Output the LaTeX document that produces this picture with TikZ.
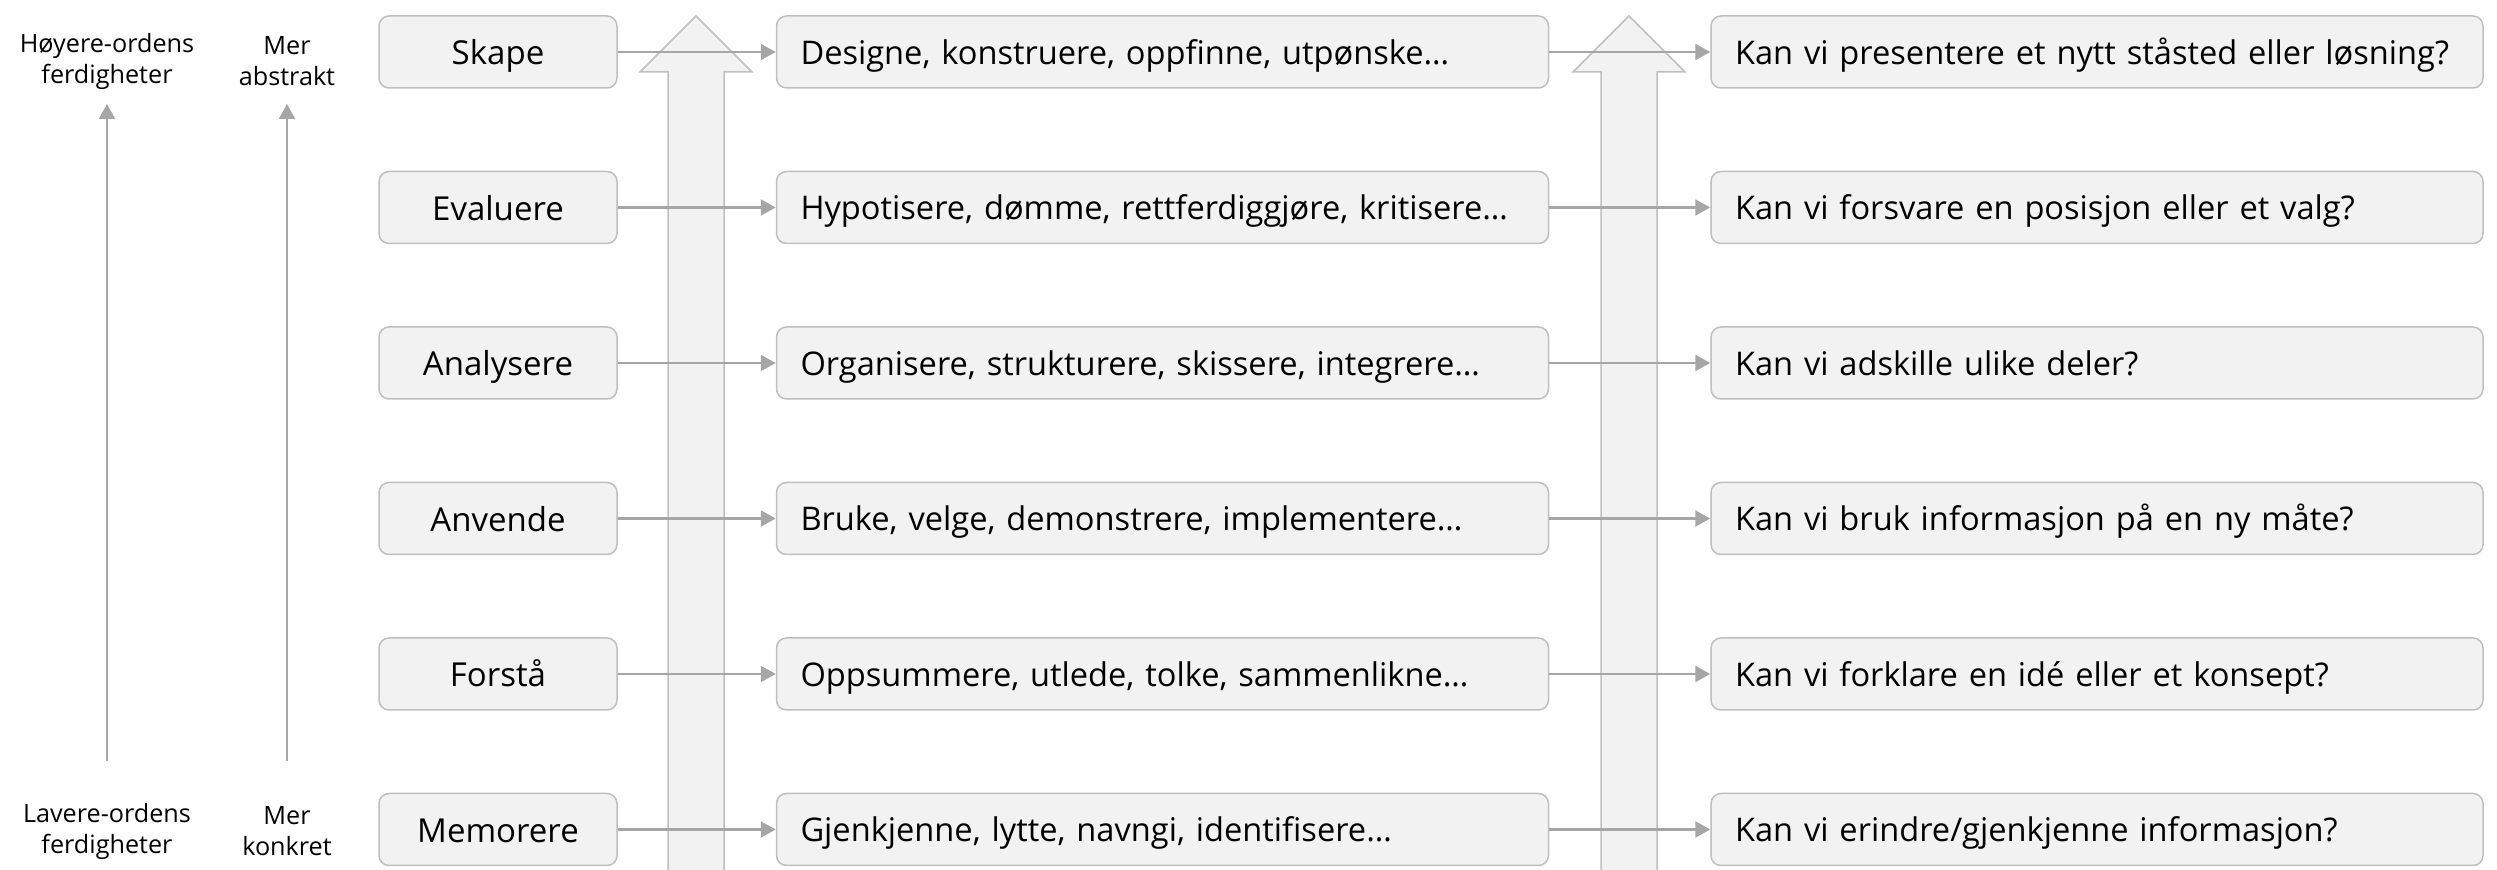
\documentclass[tikz,border=0pt]{standalone}
\usepackage{fontspec}
\setmainfont{Open Sans}
\usetikzlibrary{arrows.meta}
\definecolor{boxfill}{HTML}{F2F2F2}
\definecolor{boxline}{HTML}{BFBFBF}
\definecolor{conn}{HTML}{A6A6A6}
\tikzset{
  lvl/.style={draw=boxline, fill=boxfill, line width=0.75pt, rounded corners=5pt,
    minimum width=119pt, minimum height=36pt, inner sep=0pt, text height=14pt, text depth=1pt,
    font=\fontsize{16.5}{19}\selectfont},
  wide/.style={draw=boxline, fill=boxfill, line width=0.75pt, rounded corners=5pt,
    minimum width=386pt, minimum height=36pt, inner xsep=12pt, inner ysep=0pt,
    text height=13.5pt, text depth=1pt,
    text width=362pt, align=left, font=\fontsize{16.3}{19}\selectfont},
  sidelbl/.style={align=center, inner sep=0pt, font=\fontsize{12.6}{15.5}\selectfont},
  conarrow/.style={draw=conn, line width=1.2pt, -{Triangle[length=7.5pt,width=8pt]}},
  sidearrow/.style={draw=conn, line width=1pt, -{Triangle[length=7.5pt,width=8pt]}},
  bigarrow/.style={draw=boxline, fill=boxfill, line width=0.75pt, line join=miter}
}
\begin{document}
\begin{tikzpicture}[x=0.5pt, y=-0.5pt]
\useasboundingbox (0,0) rectangle (2497,870);
% big arrows
\foreach \cx in {696,1629}{
  \path[bigarrow] (\cx,16) -- (\cx+56,72) -- (\cx+28,72) -- (\cx+28,875) -- (\cx-28,875) -- (\cx-28,72) -- (\cx-56,72) -- cycle;
}
% side labels
\node[sidelbl] (hoy) at (107,61) {Høyere-ordens\\ferdigheter};
\node[sidelbl] (lav) at (107,831) {Lavere-ordens\\ferdigheter};
\node[sidelbl] (abs) at (287,61) {Mer\\abstrakt};
\node[sidelbl] (kon) at (287,831) {Mer\\konkret};
\coordinate (h1) at (107,761); \coordinate (h2) at (107,104);
\coordinate (m1) at (287,761); \coordinate (m2) at (287,104);
\draw[sidearrow] (h1) -- (h2);
\draw[sidearrow] (m1) -- (m2);
% rows
\foreach \i/\y/\a/\b/\c in {
  1/52/Skape/{Designe, konstruere, oppfinne, utpønske…}/{Kan vi presentere et nytt ståsted eller løsning?},
  2/207.5/Evaluere/{Hypotisere, dømme, rettferdiggjøre, kritisere…}/{Kan vi forsvare en posisjon eller et valg?},
  3/363/Analysere/{Organisere, strukturere, skissere, integrere…}/{Kan vi adskille ulike deler?},
  4/518.5/Anvende/{Bruke, velge, demonstrere, implementere…}/{Kan vi bruk informasjon på en ny måte?},
  5/674/Forstå/{Oppsummere, utlede, tolke, sammenlikne…}/{Kan vi forklare en idé eller et konsept?},
  6/829.5/Memorere/{Gjenkjenne, lytte, navngi, identifisere…}/{Kan vi erindre/gjenkjenne informasjon?}}{
  \node[lvl] (a\i) at (498,\y) {\a};
  \node[wide] (b\i) at (1162.5,\y) {\b};
  \node[wide] (c\i) at (2097,\y) {\c};
  \draw[conarrow] (a\i) -- (b\i);
  \draw[conarrow] (b\i) -- (c\i);
}
\end{tikzpicture}
\end{document}
